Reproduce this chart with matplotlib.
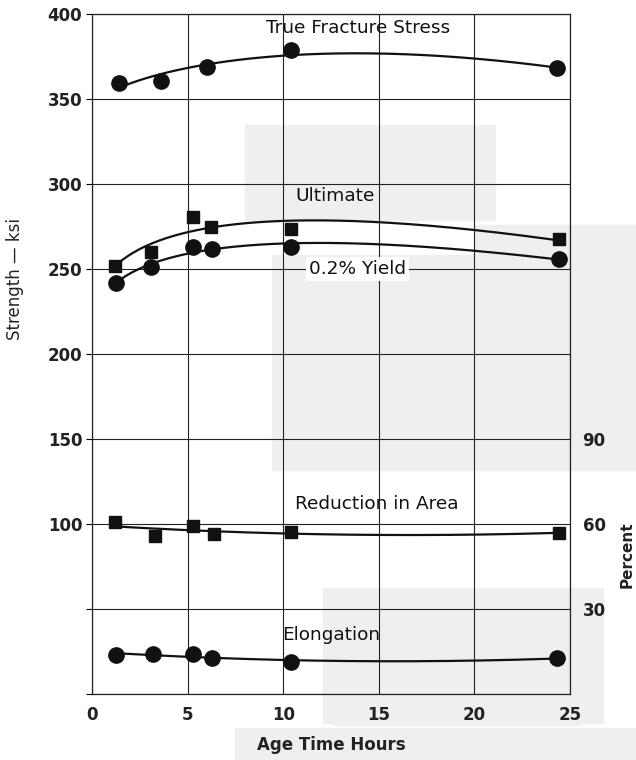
import numpy as np
import matplotlib.pyplot as plt
from matplotlib.patches import Rectangle

plt.rcParams['font.family'] = ['DejaVu Sans']

# aging time, hours
t_tfs = [1.4, 3.6, 6.0, 10.4, 24.3]
tfs = [359.5, 360.5, 369.0, 378.8, 368.0]

t_ult = [1.2, 3.1, 5.3, 6.2, 10.4, 24.4]
ult = [251.8, 260.0, 280.6, 275.0, 273.5, 267.6]

t_ys = [1.24, 3.1, 5.3, 6.3, 10.4, 24.4]
ys = [241.8, 251.0, 263.0, 262.0, 263.0, 255.9]

# ductility in percent (right axis)
t_ra = [1.2, 3.3, 5.3, 6.4, 10.4, 24.4]
ra = [60.6, 55.8, 59.3, 56.4, 57.3, 56.8]

t_el = [1.24, 3.2, 5.3, 6.3, 10.4, 24.3]
el = [13.7, 14.1, 14.1, 12.6, 11.3, 12.6]

ksi_ticks = [0, 50, 100, 150, 200, 250, 300, 350, 400]
ksi_labels = ['', '', '100', '150', '200', '250', '300', '350', '400']
pct_ticks = [30, 60, 90]
hr_ticks = [0, 5, 10, 15, 20, 25]

PCT = 0.6  # percent per ksi on the shared grid

fig = plt.figure(figsize=(6.36, 7.6), dpi=100)

# faint scan patches behind the chart
for (x0, y0, w, h) in [(245, 125, 250, 95), (272, 255, 364, 215),
                       (475, 225, 161, 40), (323, 588, 280, 135),
                       (235, 728, 401, 32), (335, 700, 245, 25)]:
    fig.patches.append(Rectangle((x0 / 636, 1 - (y0 + h) / 760), w / 636, h / 760,
                                 transform=fig.transFigure, color='#efefef', zorder=-1))

ax = fig.add_axes([92 / 636, 1 - 694 / 760, 478 / 636, 680 / 760])
ax.set_facecolor('none')
ax.set_xlim(0, 25)
ax.set_ylim(0, 400)
ax.set_xticks(hr_ticks)
ax.set_yticks(ksi_ticks)
ax.set_yticklabels(ksi_labels)
ax.grid(True, color='#222222', linewidth=0.8)
for s in ax.spines.values():
    s.set_color('#222222')
    s.set_linewidth(0.9)
ax.tick_params(axis='x', length=0, pad=9, labelsize=12)
ax.tick_params(axis='y', length=4, width=0.8, pad=3, labelsize=12)
for lab in ax.get_xticklabels() + ax.get_yticklabels():
    lab.set_fontweight('bold')
    lab.set_color('#222222')

def fit_curve(x, y, p=1.0, deg=2):
    # smooth trend, quadratic in time**p
    s = np.power(x, p)
    c = np.polyfit(s, y, deg)
    xx = np.linspace(min(x), max(x), 200)
    return xx, np.polyval(c, np.power(xx, p))

lk = dict(color='#111111', linewidth=1.6, zorder=3)
mk = dict(color='#111111', linestyle='none', zorder=4)

xx, yy = fit_curve(t_tfs, tfs, p=0.75)
ax.plot(xx, yy, **lk)
ax.plot(t_tfs, tfs, marker='o', markersize=11, **mk)

xx, yy = fit_curve(t_ult, ult, p=0.5)
ax.plot(xx, yy, **lk)
ax.plot(t_ult, ult, marker='s', markersize=9, **mk)

xx, yy = fit_curve(t_ys, ys, p=0.5)
ax.plot(xx, yy, **lk)
ax.plot(t_ys, ys, marker='o', markersize=11, **mk)

ra_k = [v / PCT for v in ra]
xx, yy = fit_curve(t_ra, ra_k)
ax.plot(xx, yy, **lk)
ax.plot(t_ra, ra_k, marker='s', markersize=9, **mk)

el_k = [v / PCT for v in el]
xx, yy = fit_curve(t_el, el_k)
ax.plot(xx, yy, **lk)
ax.plot(t_el, el_k, marker='o', markersize=11, **mk)

tk = dict(ha='center', va='center', fontsize=13.3, color='#111111', zorder=5)
ax.text(13.9, 392, 'True Fracture Stress', **tk)
ax.text(12.7, 293, 'Ultimate', **tk)
ax.text(13.9, 250, '0.2% Yield',
        bbox=dict(facecolor='white', edgecolor='none', pad=2), **tk)
ax.text(14.9, 112, 'Reduction in Area', **tk)
ax.text(12.5, 35, 'Elongation', **tk)

ax.set_ylabel('Strength \u2014 ksi', fontsize=12, color='#222222')
ax.yaxis.set_label_coords(-0.142, 0.61)
ax.set_xlabel('Age Time Hours', fontsize=12, fontweight='bold', color='#222222')
ax.xaxis.label.set_va('center')
ax.xaxis.set_label_coords(0.5, -0.075)

ax2 = ax.twinx()
ax2.set_ylim(0, 400 * PCT)
ax2.set_yticks(pct_ticks)
ax2.tick_params(axis='y', length=0, pad=9, labelsize=12)
for lab in ax2.get_yticklabels():
    lab.set_fontweight('bold')
    lab.set_color('#222222')
for s in ax2.spines.values():
    s.set_visible(False)

fig.text(0.998, 0.27, 'Percent', rotation=90, ha='right', va='center',
         fontsize=11, fontweight='bold', color='#222222')

fig.savefig('out.png', dpi=100)
